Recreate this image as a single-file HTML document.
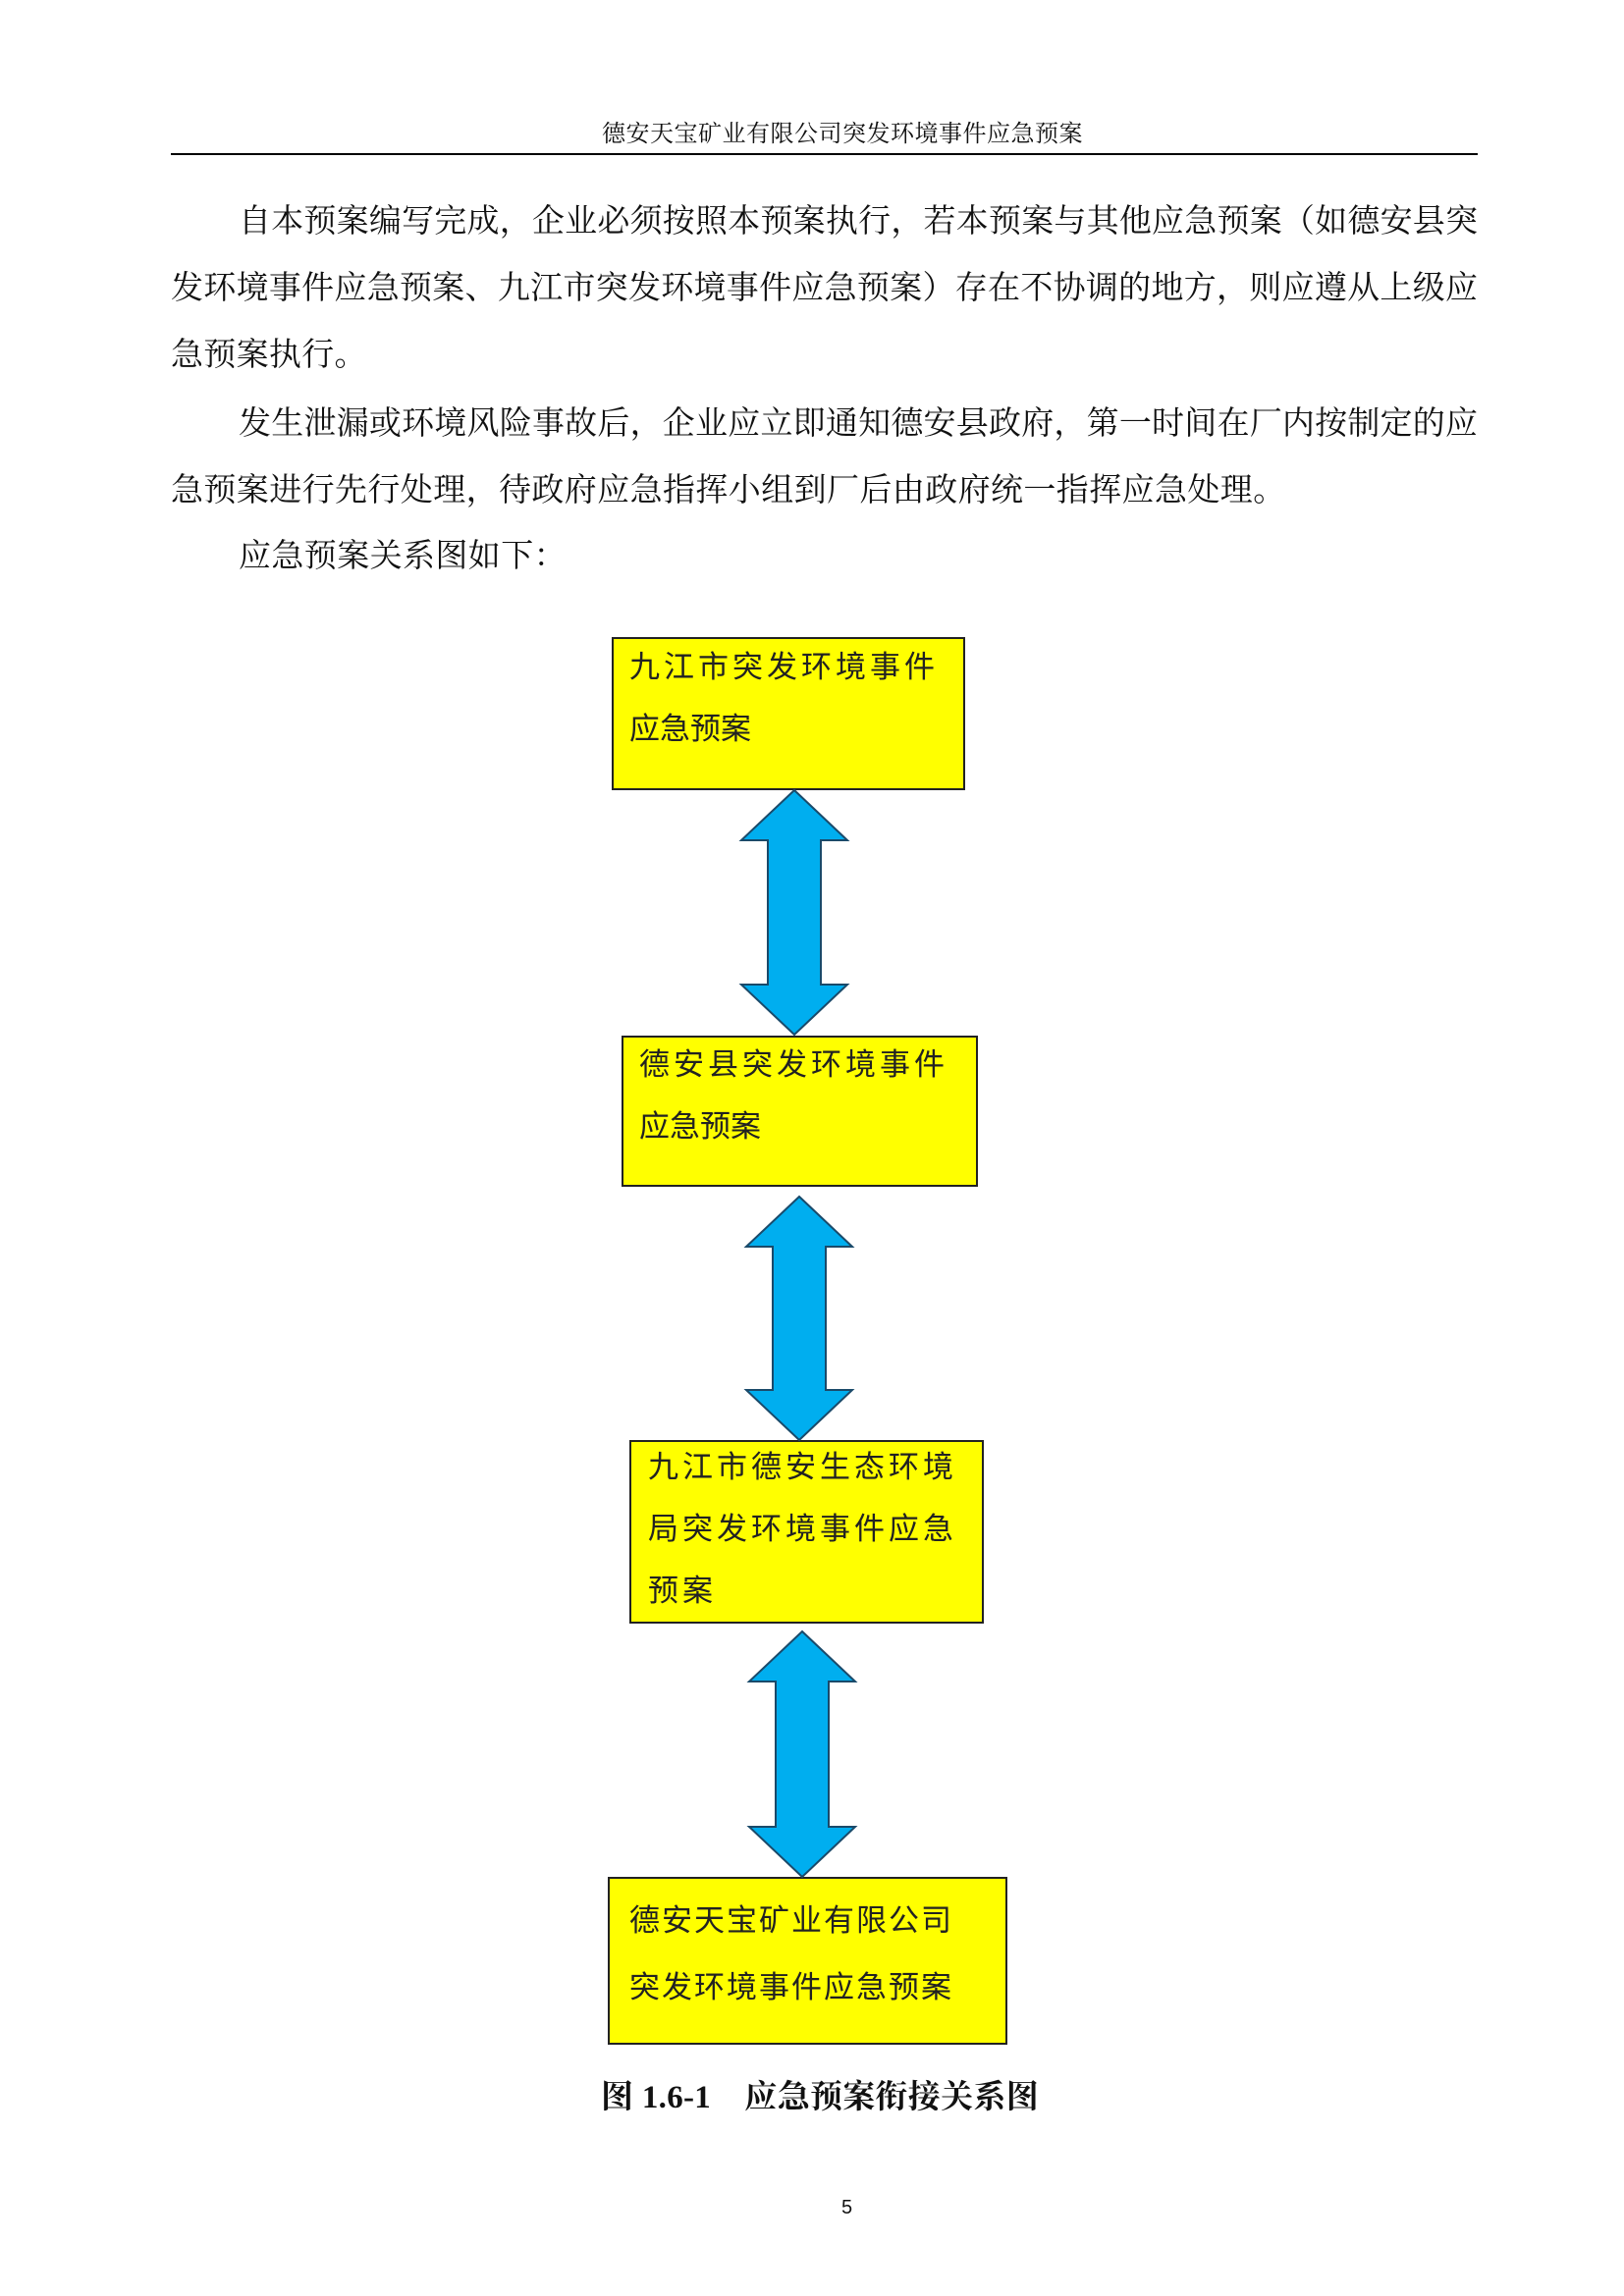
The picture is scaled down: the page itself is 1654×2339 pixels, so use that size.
<!DOCTYPE html>
<html><head><meta charset="utf-8"><style>
body{margin:0;width:1654px;height:2339px;background:#fff;position:relative;overflow:hidden;font-family:"Liberation Serif","Noto Serif CJK SC",serif;color:#111}
.a{position:absolute;white-space:nowrap}
.ln{position:absolute;left:174px;width:1331px;font-size:33px;line-height:40px;text-align:justify;text-align-last:justify;white-space:nowrap}
.box{position:absolute;background:#ffff00;border:2px solid #222;box-sizing:border-box}
.bt{position:absolute;font-family:"Liberation Sans","Noto Sans CJK SC",sans-serif;font-size:31px;line-height:40px;white-space:nowrap;color:#222}
</style></head><body>
<div class="a" style="left:613px;top:122px;font-size:24px;line-height:30px;letter-spacing:0.5px">德安天宝矿业有限公司突发环境事件应急预案</div>
<div class="a" style="left:174px;top:156px;width:1331px;height:2px;background:#000"></div>

<div class="ln" style="top:206px;left:243px;width:1262px">自本预案编写完成，企业必须按照本预案执行，若本预案与其他应急预案（如德安县突</div>
<div class="ln" style="top:274px">发环境事件应急预案、九江市突发环境事件应急预案）存在不协调的地方，则应遵从上级应</div>
<div class="ln" style="top:342px;text-align-last:left;letter-spacing:0.3px">急预案执行。</div>
<div class="ln" style="top:412px;left:243px;width:1262px">发生泄漏或环境风险事故后，企业应立即通知德安县政府，第一时间在厂内按制定的应</div>
<div class="ln" style="top:480px;text-align-last:left;letter-spacing:0.4px">急预案进行先行处理，待政府应急指挥小组到厂后由政府统一指挥应急处理。</div>
<div class="ln" style="top:547px;left:243px;text-align-last:left;letter-spacing:0.4px">应急预案关系图如下：</div>

<div class="box" style="left:623px;top:649px;width:360px;height:156px"></div>
<div class="bt" style="left:641px;top:660px;letter-spacing:4px">九江市突发环境事件</div>
<div class="bt" style="left:641px;top:723px">应急预案</div>

<div class="box" style="left:633px;top:1055px;width:363px;height:154px"></div>
<div class="bt" style="left:651px;top:1065px;letter-spacing:4px">德安县突发环境事件</div>
<div class="bt" style="left:651px;top:1128px">应急预案</div>

<div class="box" style="left:641px;top:1467px;width:361px;height:187px"></div>
<div class="bt" style="left:660px;top:1475px;letter-spacing:4px">九江市德安生态环境</div>
<div class="bt" style="left:660px;top:1538px;letter-spacing:4px">局突发环境事件应急</div>
<div class="bt" style="left:660px;top:1601px;letter-spacing:4px">预案</div>

<div class="box" style="left:619px;top:1912px;width:407px;height:171px"></div>
<div class="bt" style="left:641px;top:1937px;letter-spacing:2px">德安天宝矿业有限公司</div>
<div class="bt" style="left:641px;top:2005px;letter-spacing:2px">突发环境事件应急预案</div>

<svg class="a" style="left:0;top:0" width="1654" height="2339">
<g fill="#00aeef" stroke="#1a4a6a" stroke-width="2">
<polygon points="809,805 863,856 836,856 836,1003 863,1003 809,1054 755,1003 782,1003 782,856 755,856"/>
<polygon points="814,1219 868,1270 841,1270 841,1416 868,1416 814,1467 760,1416 787,1416 787,1270 760,1270"/>
<polygon points="817,1662 871,1713 844,1713 844,1861 871,1861 817,1912 763,1861 790,1861 790,1713 763,1713"/>
</g></svg>

<div class="a" style="left:612px;top:2117px;font-size:33px;font-weight:bold;line-height:40px;letter-spacing:0.3px">图 1.6-1&nbsp;&nbsp;&nbsp;&nbsp;应急预案衔接关系图</div>
<div class="a" style="left:857px;top:2238px;font-size:20px;font-family:'Liberation Sans',sans-serif">5</div>
</body></html>
